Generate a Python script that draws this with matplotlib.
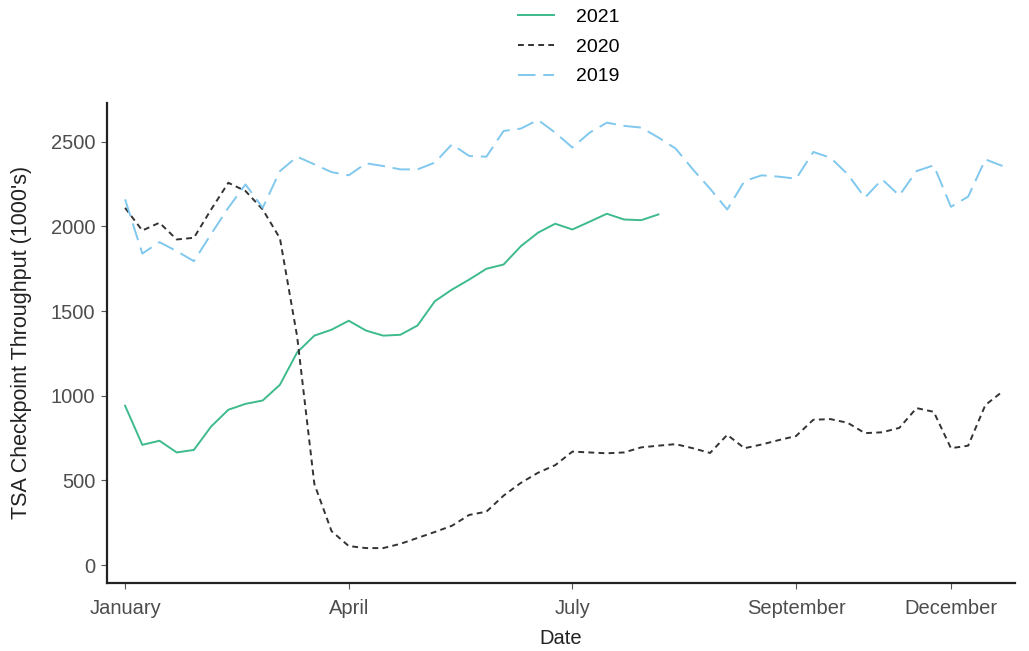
import numpy as np
import matplotlib
matplotlib.use('Agg')
import matplotlib.pyplot as plt

plt.rcParams['font.family'] = ['Liberation Sans', 'DejaVu Sans']

# weekly TSA throughput (1000's), week 0 = first week of January
weeks = np.arange(52)

tsa_2021 = [941, 710, 734, 665, 680, 818, 917, 952, 972, 1065,
            1256, 1355, 1390, 1443, 1385, 1355, 1360, 1415, 1558, 1627,
            1686, 1750, 1775, 1883, 1963, 2016, 1982, 2028, 2075, 2041,
            2037, 2071]

tsa_2020 = [2110, 1976, 2022, 1923, 1933, 2100, 2258, 2209, 2100, 1930,
            1350, 479, 200, 112, 100, 100, 125, 160, 195, 232,
            296, 315, 410, 485, 545, 590, 670, 665, 660, 665,
            695, 705, 714, 690, 662, 769, 690, 712, 738, 762,
            858, 862, 840, 779, 784, 810, 927, 905, 690, 705,
            945, 1025]

tsa_2019 = [2160, 1840, 1907, 1854, 1795, 1955, 2110, 2248, 2110, 2327,
            2412, 2367, 2321, 2302, 2373, 2357, 2337, 2337, 2377, 2485,
            2416, 2412, 2564, 2578, 2629, 2554, 2466, 2554, 2613, 2594,
            2584, 2525, 2460, 2337, 2223, 2100, 2268, 2302, 2294, 2282,
            2440, 2406, 2308, 2170, 2278, 2183, 2327, 2361, 2116, 2176,
            2396, 2357]

tick_weeks = [0, 13, 26, 39, 48]
tick_labels = ['January', 'April', 'July', 'September', 'December']

fig = plt.figure(figsize=(10.29, 6.51), dpi=100)
ax = fig.add_axes([0.104, 0.1045, 0.882, 0.7375])

ax.plot(weeks[:len(tsa_2021)], tsa_2021, color='#3dbb8c', lw=1.4, label='2021')
ax.plot(weeks, tsa_2020, color='#333333', lw=1.4, ls=(0, (3, 2.2)), label='2020')
ax.plot(weeks, tsa_2019, color='#80c8ee', lw=1.4, ls=(0, (9, 4)), label='2019')

ax.set_xlim(-1.05, 51.7)
ax.set_ylim(-106, 2730)
ax.set_xticks(tick_weeks)
ax.set_xticklabels(tick_labels)
ax.set_yticks([0, 500, 1000, 1500, 2000, 2500])

for s in ['top', 'right']:
    ax.spines[s].set_visible(False)
for s in ['left', 'bottom']:
    ax.spines[s].set_linewidth(1.6)
    ax.spines[s].set_color('#222222')

ax.tick_params(axis='both', length=4.5, width=0.8, color='#555555',
               labelcolor='#4d4d4d', labelsize=14.5)
ax.tick_params(axis='x', pad=7)
ax.tick_params(axis='y', pad=4)
ax.set_xlabel('Date', fontsize=14.5, color='#222222')
ax.set_ylabel("TSA Checkpoint Throughput (1000's)", fontsize=15.5,
              color='#222222')
ax.xaxis.set_label_coords(0.5, -0.095)
ax.yaxis.set_label_coords(-0.083, 0.5)

fig.legend(loc='upper center', bbox_to_anchor=(0.553, 0.999), frameon=False,
           fontsize=14, handlelength=1.85, handletextpad=1.15,
           labelspacing=0.62, borderaxespad=0)

plt.savefig('out.png')
